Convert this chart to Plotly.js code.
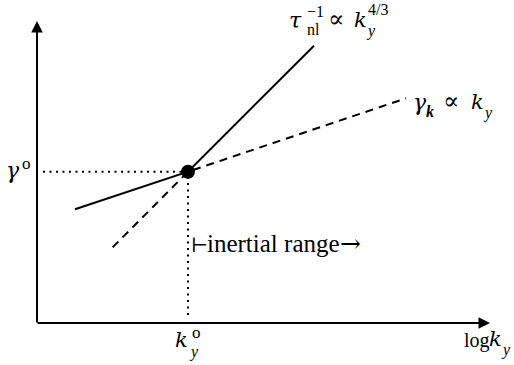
<!DOCTYPE html>
<html><head><meta charset="utf-8">
<script src="https://cdn.plot.ly/plotly-3.0.1.min.js"></script>
<style>html,body{margin:0;padding:0;background:#fff}</style>
</head><body><div id="chart" style="width:514px;height:365px"></div>
<script>
// Schematic: x = log k_y, y = log rate (arbitrary units, origin at axes corner)
const kCross = 1.51;                 // log k_y^o
const gCross = 1.513;                // log gamma^o
const tauX = [0.38, 1.51, 2.77];     // tau_nl^-1 curve
const tauY = [1.137, 1.513, 2.773];
const gamX = [0.757, 1.51, 3.69];    // gamma_k curve
const gamY = [0.757, 1.513, 2.247];
const hDotX = [0.06, kCross], hDotY = [gCross, gCross];
const vDotX = [kCross, kCross], vDotY = [0.08, gCross];
const xAxisEnd = 4.53, yAxisEnd = 3.02;

const W = 514, H = 365, OX = 37, OY = 323, S = 100;
const SERIF = "Liberation Serif, 'DejaVu Serif', serif";
const DJV = "'DejaVu Serif', serif";
const px2x = p => (p - OX) / S, py2y = p => (OY - p) / S;

const traces = [
  {x: hDotX, y: hDotY, mode: 'lines', line: {color: '#000', width: 2, dash: '2px,4.5px'}},
  {x: vDotX, y: vDotY, mode: 'lines', line: {color: '#000', width: 2, dash: '2px,4.5px'}},
  {x: gamX, y: gamY, mode: 'lines', line: {color: '#000', width: 2, dash: '8px,6px'}},
  {x: tauX, y: tauY, mode: 'lines', line: {color: '#000', width: 2}},
  {x: [kCross], y: [gCross], mode: 'markers', marker: {color: '#000', size: 14}}
];

// text piece: left edge px, baseline py, font size
function lab(text, left, base, size, fam) {
  const f = fam || SERIF;
  const k = f === DJV ? 0.36 : 0.3375;
  return {text: text, x: px2x(left - 1), y: py2y(base - k * size),
    xref: 'x', yref: 'y', xanchor: 'left', yanchor: 'middle', showarrow: false,
    borderpad: 0, font: {family: f, size: size, color: '#000'}};
}
const annotations = [
  // axes arrows
  {x: 0, y: yAxisEnd, ax: 0, ay: -0.01, xref: 'x', yref: 'y', axref: 'x', ayref: 'y',
   text: '', showarrow: true, arrowhead: 2, arrowsize: 1.15, arrowwidth: 2, arrowcolor: '#000', standoff: 0},
  {x: xAxisEnd, y: 0, ax: -0.01, ay: 0, xref: 'x', yref: 'y', axref: 'x', ayref: 'y',
   text: '', showarrow: true, arrowhead: 2, arrowsize: 1.15, arrowwidth: 2, arrowcolor: '#000', standoff: 0},
  // tau_nl^-1 ∝ k_y^{4/3}
  lab('<i>τ</i>', 289, 28, 22, DJV),
  lab('nl', 307, 35, 16),
  lab('−1', 307, 17, 16),
  lab('∝', 328, 28, 24, DJV),
  lab('<i>k</i>', 354, 28, 21, DJV),
  lab('<i>y</i>', 366, 36, 16),
  lab('4/3', 368, 15, 16),
  // gamma_k ∝ k_y
  lab('<i>γ</i>', 413, 110, 22, DJV),
  lab('<b><i>k</i></b>', 426, 117, 16),
  lab('∝', 443, 110, 24, DJV),
  lab('<i>k</i>', 471, 110, 21, DJV),
  lab('<i>y</i>', 483, 118, 16),
  // gamma^o
  lab('<i>γ</i>', 6, 178, 22, DJV),
  lab('o', 22, 169, 17),
  // k_y^o
  lab('<i>k</i>', 175, 348, 21, DJV),
  lab('o', 192, 338, 17),
  lab('<i>y</i>', 189, 357, 16),
  // log k_y
  lab('log', 464, 347, 20),
  lab('<i>k</i>', 489, 347, 21, DJV),
  lab('<i>y</i>', 501, 355, 16),
  // inertial range
  lab('⊢', 191, 252, 20),
  lab('inertial range', 207, 252, 25),
  lab('→', 340, 252, 25, DJV)
];

const layout = {
  width: W, height: H, autosize: false, showlegend: false,
  margin: {l: 0, r: 0, t: 0, b: 0, pad: 0},
  paper_bgcolor: '#fff', plot_bgcolor: '#fff',
  xaxis: {range: [px2x(0), px2x(W)], visible: false, fixedrange: true},
  yaxis: {range: [py2y(H), py2y(0)], visible: false, fixedrange: true},
  annotations: annotations
};
Plotly.newPlot('chart', traces, layout, {staticPlot: true, displayModeBar: false});
</script></body></html>
